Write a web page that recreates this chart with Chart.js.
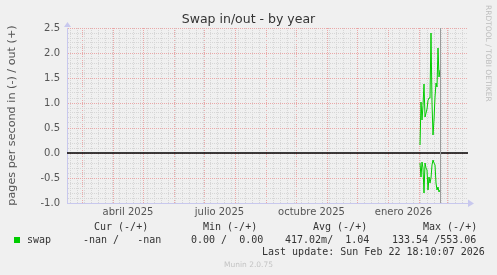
<!DOCTYPE html>
<html lang="es">
<head>
<meta charset="UTF-8">
<title>Swap in/out - by year</title>
<script src="https://cdn.jsdelivr.net/npm/chart.js"></script>
<style>
  body { margin: 0; background: #f0f0f0; }
  .wrap { position: relative; width: 497px; height: 275px; background: #f0f0f0; overflow: hidden; }
  #chart { position: absolute; left: 0; top: 0; }
  .title { position: absolute; left: 0; width: 497px; top: 11px; text-align: center;
           font: 12.5px "DejaVu Sans", sans-serif; color: #333; }
  .mono { position: absolute; white-space: pre; font: 10px "DejaVu Sans Mono", monospace;
          line-height: 12px; color: #333; }
  .swatch { position: absolute; left: 14px; top: 237px; width: 6px; height: 6px; background: #00cc00; }
  .munin { position: absolute; left: 0; width: 497px; top: 260px; text-align: center;
           font: 7.5px "DejaVu Sans", sans-serif; color: #c4c4c4; }
  .rrd { position: absolute; left: 484px; top: 5px; writing-mode: vertical-rl;
         font: 7.5px "DejaVu Sans", sans-serif; color: #bdbdbd; white-space: pre; }
</style>
</head>
<body>
<div class="wrap">
  <canvas id="chart" width="497" height="275"></canvas>
  <div class="title">Swap in/out - by year</div>
  <div class="rrd">RRDTOOL / TOBI OETIKER</div>

  <div class="mono" style="left:94px; top:221px">Cur (-/+)</div>
  <div class="mono" style="left:203px; top:221px">Min (-/+)</div>
  <div class="mono" style="left:313px; top:221px">Avg (-/+)</div>
  <div class="mono" style="left:423px; top:221px">Max (-/+)</div>

  <div class="swatch"></div>
  <div class="mono" style="left:27px; top:234px">swap</div>
  <div class="mono" style="left:83px; top:234px">-nan /   -nan</div>
  <div class="mono" style="left:191px; top:234px">0.00 /  0.00</div>
  <div class="mono" style="left:285px; top:234px">417.02m/  1.04</div>
  <div class="mono" style="left:392px; top:234px">133.54 /553.06</div>

  <div class="mono" style="left:262px; top:246px">Last update: Sun Feb 22 18:10:07 2026</div>
  <div class="munin">Munin 2.0.75</div>
</div>
<script>
    // days counted from 1 March 2025
    const days    = [338, 339, 340, 341, 342, 343, 344, 345, 346, 347, 348, 349, 350, 351, 352, 353, 354, 355, 356, 357, 358];
    const swapOut = [0.16, 1.02, 0.66, 0.95, 1.38, 0.72, 0.80, 0.88, 1.05, 1.10, 1.10, 2.40, 1.00, 0.36, 0.66, 1.12, 1.40, 1.32, 2.10, 1.52, 1.66];
    const swapIn  = [-0.20, -0.48, -0.18, -0.30, -0.80, -0.20, -0.30, -0.34, -0.74, -0.48, -0.60, -0.50, -0.24, -0.14, -0.20, -0.24, -0.60, -0.74, -0.68, -0.78, -0.74];

    const monthStarts = [0, 31, 61, 92, 122, 153, 184, 214, 245, 275, 306, 337, 365];
    const labelDays   = [46, 137.5, 229.5, 321.5];
    const labelTexts  = ['abril 2025', 'julio 2025', 'octubre 2025', 'enero 2026'];
    const nowDay = 358;
    const xMin = -15, xMax = 386;
    const yMin = -1.0, yMax = 2.5;

    const green = '#00cc00';
    const majorGrid = '#eaa8a8';
    const minorGrid = '#d6d6d6';
    const axisColor = '#c8c8ee';
    const tickFont = { family: 'DejaVu Sans', size: 10 };

    // build x ticks: weekly minor lines (Mondays), month starts, label positions
    function buildXTicks(scale) {
        const t = [];
        for (let d = -12; d <= xMax; d += 7) {
            if (!monthStarts.includes(d)) t.push({ value: d, kind: 'minor' });
        }
        monthStarts.forEach(d => t.push({ value: d, kind: 'major' }));
        labelDays.forEach(d => t.push({ value: d, kind: 'label' }));
        t.sort((a, b) => a.value - b.value);
        scale.ticks = t;
    }

    function buildYTicks(scale) {
        const t = [];
        for (let i = Math.round(yMin * 10); i <= Math.round(yMax * 10); i++) {
            t.push({ value: i / 10 });
        }
        scale.ticks = t;
    }

    // zero line, "now" line and axis arrows
    const overlay = {
        id: 'overlay',
        afterDatasetsDraw(chart) {
            const { ctx, chartArea: a, scales: { x, y } } = chart;
            ctx.save();
            const y0 = Math.round(y.getPixelForValue(0));
            ctx.strokeStyle = '#000';
            ctx.lineWidth = 1.5;
            ctx.beginPath();
            ctx.moveTo(a.left, y0);
            ctx.lineTo(a.right, y0);
            ctx.stroke();

            const xn = Math.round(x.getPixelForValue(nowDay)) + 0.5;
            ctx.strokeStyle = '#9a9a9a';
            ctx.lineWidth = 1;
            ctx.beginPath();
            ctx.moveTo(xn, a.top);
            ctx.lineTo(xn, a.bottom);
            ctx.stroke();

            ctx.fillStyle = axisColor;
            ctx.beginPath();
            ctx.moveTo(a.left - 3, a.top - 1);
            ctx.lineTo(a.left + 0.5, a.top - 6);
            ctx.lineTo(a.left + 4, a.top - 1);
            ctx.fill();
            ctx.beginPath();
            ctx.moveTo(a.right, a.bottom - 3.5);
            ctx.lineTo(a.right + 6, a.bottom + 0.5);
            ctx.lineTo(a.right, a.bottom + 4);
            ctx.fill();
            ctx.restore();
        }
    };

    new Chart(document.getElementById('chart'), {
        type: 'line',
        data: {
            datasets: [
                {
                    label: 'swap out',
                    data: days.map((d, i) => ({ x: d, y: swapOut[i] })),
                    borderColor: green,
                    borderWidth: 1,
                    pointRadius: 0,
                    tension: 0
                },
                {
                    label: 'swap in',
                    data: days.map((d, i) => ({ x: d, y: swapIn[i] })),
                    borderColor: green,
                    borderWidth: 1,
                    pointRadius: 0,
                    tension: 0
                }
            ]
        },
        options: {
            responsive: false,
            animation: false,
            events: [],
            layout: { padding: { left: 0, top: 28, right: 29, bottom: 52 } },
            plugins: {
                legend: { display: false },
                tooltip: { enabled: false },
                title: { display: false }
            },
            scales: {
                x: {
                    type: 'linear',
                    min: xMin,
                    max: xMax,
                    afterBuildTicks: buildXTicks,
                    afterFit: s => { s.height = 20; },
                    ticks: {
                        autoSkip: false,
                        maxRotation: 0,
                        padding: 3,
                        color: '#555',
                        font: tickFont,
                        callback: v => {
                            const i = labelDays.indexOf(v);
                            return i >= 0 ? labelTexts[i] : '';
                        }
                    },
                    grid: {
                        drawTicks: false,
                        lineWidth: 1,
                        color: ctx => {
                            const t = ctx.tick;
                            if (!t) return minorGrid;
                            if (t.kind === 'major') return majorGrid;
                            if (t.kind === 'label') return 'rgba(0,0,0,0)';
                            return minorGrid;
                        }
                    },
                    border: { display: true, color: axisColor, width: 1, dash: [1, 1] }
                },
                y: {
                    type: 'linear',
                    min: yMin,
                    max: yMax,
                    afterBuildTicks: buildYTicks,
                    afterFit: s => { s.width = 67; },
                    title: {
                        display: true,
                        text: 'pages per second in (-) / out (+)',
                        color: '#555',
                        font: { family: 'DejaVu Sans', size: 11.2 },
                        padding: { top: 5, bottom: 0 }
                    },
                    ticks: {
                        autoSkip: false,
                        padding: 7,
                        color: '#555',
                        font: tickFont,
                        callback: v => {
                            const i = Math.round(v * 10);
                            return i % 5 === 0 ? (i / 10).toFixed(1) : '';
                        }
                    },
                    grid: {
                        drawTicks: false,
                        lineWidth: 1,
                        color: ctx => {
                            if (!ctx.tick) return minorGrid;
                            return Math.round(ctx.tick.value * 10) % 5 === 0 ? majorGrid : minorGrid;
                        }
                    },
                    border: { display: true, color: axisColor, width: 1, dash: [1, 1] }
                }
            }
        },
        plugins: [overlay]
    });
</script>
</body>
</html>
